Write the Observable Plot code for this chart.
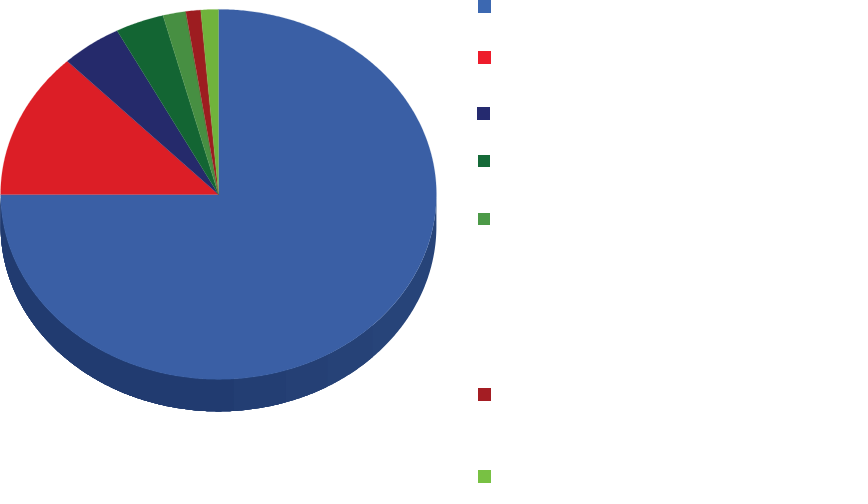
<!DOCTYPE html>
<html>
<head>
<meta charset="utf-8">
<script src="https://cdn.jsdelivr.net/npm/d3@7"></script>
<script src="https://cdn.jsdelivr.net/npm/@observablehq/plot@0.6"></script>
<style>
html,body{margin:0;padding:0;background:#fff;overflow:hidden}
#chart{position:relative;width:868px;height:504px}
#chart svg{position:absolute;left:0;top:0;background:#fff}
.swatch{position:absolute;width:12.7px;height:12.7px}
</style>
</head>
<body>
<div id="chart"></div>
<script>
// Data
const categories = ["A","B","C","D","E","F","G"];
const shares = [75, 12.8, 4.5, 3.6, 1.7, 1.1, 1.3];
// Styles
const sliceColors = ["#3a5fa5","#dc1e26","#252a6b","#136533","#478f42","#9d1c20","#70b33c"];
const swatchColors = ["#3c68b1","#ee1c2b","#252a6f","#156a38","#4c9a48","#a41d23","#78c143"];
const swatchLeft = [478,478,477,477.5,477.5,478,478];
const swatchTop = [0,51,107.4,154.5,212.6,388,470];
const wallBands = [
  {from:90, fill:"#274479"},
  {from:135,fill:"#264277"},
  {from:150,fill:"#254075"},
  {from:162,fill:"#233e73"},
  {from:176,fill:"#213b70"}
];
const thickness = 32/185;

const rad = d => d*Math.PI/180;
const arcs = d3.pie().sort(null).value((d,i)=>shares[i])(categories);
function sweep(a0,a1){
  const n = Math.max(2,Math.ceil((a1-a0)/0.5));
  return d3.range(n+1).map(i=>a0+(a1-a0)*i/n);
}
const slices = arcs.flatMap(a => sweep(a.startAngle*180/Math.PI,a.endAngle*180/Math.PI).map(t=>({
  cat:a.data, px:Math.sin(rad(t)), py:Math.cos(rad(t))
})));
const wallMarks = wallBands.map(b => Plot.area(
  sweep(b.from,270).map(t=>({px:Math.sin(rad(t)),py:Math.cos(rad(t))})),
  {x1:d=>d.px,x2:d=>d.px,y1:d=>d.py,y2:d=>d.py-thickness,fill:b.fill}
));

const plot = Plot.plot({
  width:868,height:504,margin:0,
  x:{domain:[-1,1],range:[0.6,436.4],axis:null},
  y:{domain:[-1,1],range:[379.4,9.4],axis:null},
  color:{domain:categories,range:sliceColors,legend:false},
  marks:[
    ...wallMarks,
    Plot.area(slices,{x1:()=>0,y1:()=>0,x2:d=>d.px,y2:d=>d.py,fill:d=>d.cat,z:d=>d.cat,stroke:d=>d.cat,strokeWidth:0.2})
  ]
});
const root = document.getElementById("chart");
root.appendChild(plot);
categories.forEach((c,i)=>{
  const s=document.createElement("div");
  s.className="swatch";
  s.style.left=swatchLeft[i]+"px";
  s.style.top=swatchTop[i]+"px";
  s.style.background=swatchColors[i];
  root.appendChild(s);
});
</script>
</body>
</html>
